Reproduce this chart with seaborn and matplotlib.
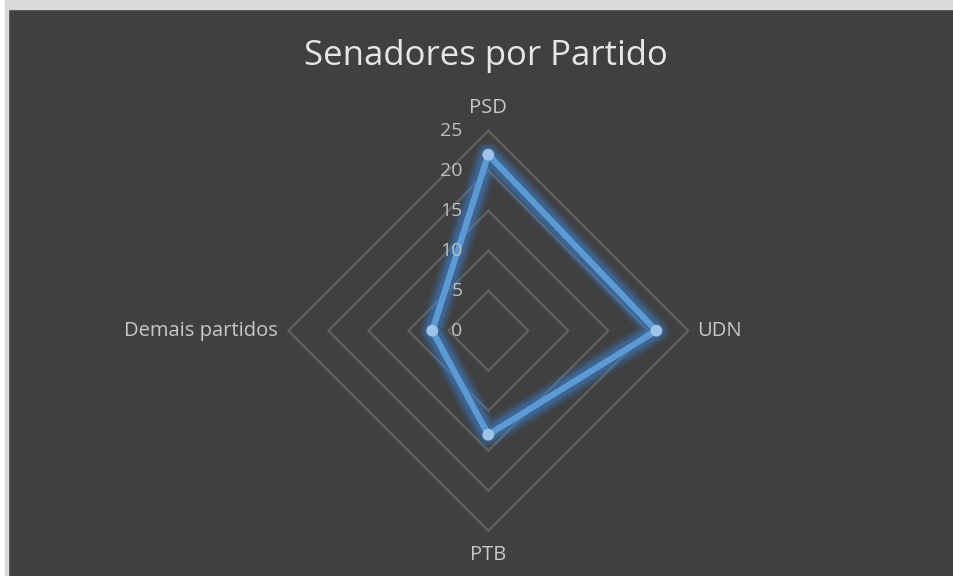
import numpy as np
import pandas as pd
import seaborn as sns
import matplotlib.pyplot as plt
from matplotlib.patches import Rectangle

# dados do gráfico
partidos = ["PSD", "UDN", "PTB", "Demais partidos"]
senadores = [22, 21, 13, 7]
escala = [0, 5, 10, 15, 20, 25]

sns.set_theme(style="dark")
plt.rcParams["font.family"] = ["Open Sans", "DejaVu Sans"]

fundo = "#404040"
fig = plt.figure(figsize=(9.54, 5.76), dpi=100, facecolor=fundo)

# moldura clara no topo e à esquerda
fig.patches.extend([
    Rectangle((0, 0), 5 / 954, 1, transform=fig.transFigure, color="white", zorder=0),
    Rectangle((5 / 954, 0), 3 / 954, 1, transform=fig.transFigure, color="#d9d9d9", zorder=0),
    Rectangle((5 / 954, 1 - 9 / 576), 1, 9 / 576, transform=fig.transFigure, color="#d9d9d9", zorder=0),
])

# eixo quadrado centrado no centro do radar
cx, cy, meia = 488.3, 330.7, 240
ax = fig.add_axes([(cx - meia) / 954, (576 - cy - meia) / 576, 2 * meia / 954, 2 * meia / 576])

n = len(partidos)
angulos = np.pi / 2 - np.arange(n) * 2 * np.pi / n

# grade em losango
for r in escala[1:]:
    gx = np.append(r * np.cos(angulos), r * np.cos(angulos[0]))
    gy = np.append(r * np.sin(angulos), r * np.sin(angulos[0]))
    ax.plot(gx, gy, color="#606060", lw=1.6, zorder=1)

vals = np.array(senadores, dtype=float)
df = pd.DataFrame({
    "partido": partidos + [partidos[0]],
    "x": np.append(vals * np.cos(angulos), vals[0] * np.cos(angulos[0])),
    "y": np.append(vals * np.sin(angulos), vals[0] * np.sin(angulos[0])),
})

# brilho em volta da linha
for lw, a in [(19, 0.09), (16, 0.13), (13, 0.17), (10, 0.24)]:
    sns.lineplot(data=df, x="x", y="y", sort=False, estimator=None, ax=ax,
                 color="#3d8ae0", lw=lw, alpha=a, solid_joinstyle="round",
                 solid_capstyle="round", zorder=2)
sns.lineplot(data=df, x="x", y="y", sort=False, estimator=None, ax=ax,
             color="#5b9bd5", lw=4.5, solid_joinstyle="miter", zorder=3)
sns.scatterplot(data=df.iloc[:-1], x="x", y="y", ax=ax, color="#9dc3e6",
                s=72, edgecolor="none", zorder=4)
ax.set_xlim(-30, 30)
ax.set_ylim(-30, 30)
ax.axis("off")

# rótulos das categorias
cor_txt = "#c8c8c8"
ax.text(0, 27.8, partidos[0], ha="center", va="center", color=cor_txt, fontsize=14.5)
ax.text(26.1, 0, partidos[1], ha="left", va="center", color=cor_txt, fontsize=14.5)
ax.text(0, -28.0, partidos[2], ha="center", va="center", color=cor_txt, fontsize=14.5)
ax.text(-26.3, 0, partidos[3], ha="right", va="center", color=cor_txt, fontsize=14.5)

# valores da escala
for r in escala:
    ax.text(-3.2, r, str(r), ha="right", va="center", color="#bfbfbf", fontsize=14)

fig.text(0.5094, 1 - 56 / 576, "Senadores por Partido", ha="center", va="center",
         color="#e6e6e6", fontsize=25)

fig.savefig("out.png", dpi=100, facecolor=fig.get_facecolor())
